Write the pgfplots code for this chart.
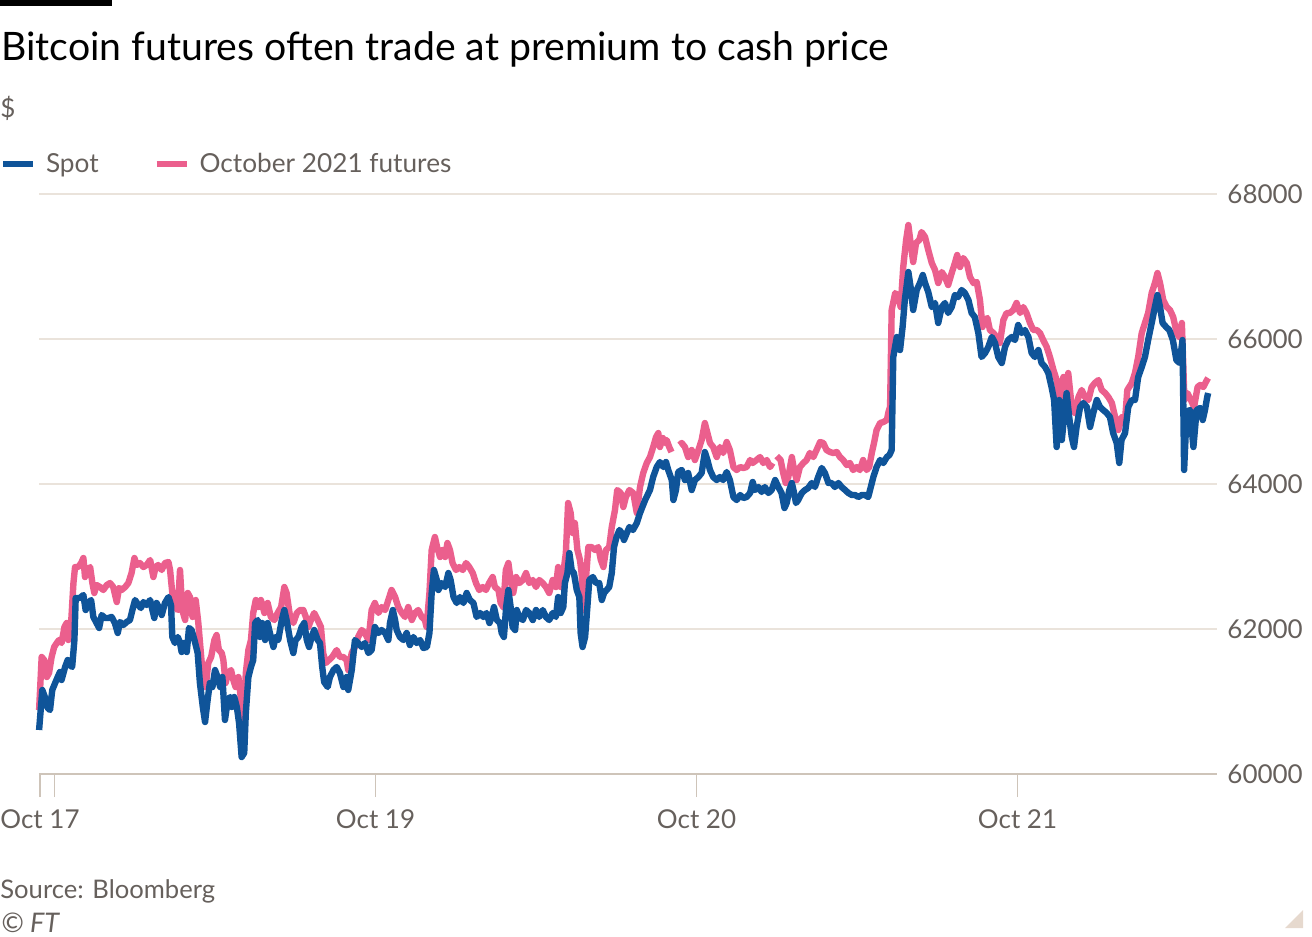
\documentclass[border=0pt]{standalone}
\usepackage{fontspec}
\setmainfont{Lato}
\usepackage{pgfplots}
\usepackage{pgfplotstable}
\pgfplotsset{compat=1.18}
\definecolor{spotblue}{HTML}{0F5499}
\definecolor{futpink}{HTML}{EB5F8D}
\definecolor{txtgray}{HTML}{66605C}
\definecolor{gridc}{HTML}{EAE3DB}
\definecolor{axisc}{HTML}{CEC4B9}
\definecolor{tric}{HTML}{E6D9CE}

% x: days since Oct 18 00:00 ; y: US dollars
\pgfplotstableread{
x y
-0.048 60607
-0.038 61159
-0.030 61062
-0.021 60910
-0.014 60883
-0.007 61159
0.002 61255
0.010 61338
0.017 61407
0.022 61297
0.033 61476
0.041 61572
0.048 61503
0.055 61476
0.062 61848
0.066 62428
0.079 62428
0.090 62469
0.097 62262
0.105 62359
0.114 62400
0.121 62166
0.131 62083
0.139 62014
0.147 62193
0.157 62152
0.168 62152
0.178 62166
0.188 62083
0.197 61945
0.204 62097
0.214 62055
0.225 62097
0.235 62124
0.245 62303
0.251 62400
0.261 62331
0.269 62290
0.277 62372
0.287 62331
0.298 62400
0.305 62262
0.311 62152
0.318 62359
0.329 62262
0.334 62193
0.344 62359
0.355 62441
0.363 62331
0.367 61890
0.375 61807
0.384 61890
0.391 61807
0.396 61683
0.401 61807
0.412 61683
0.419 62014
0.427 61986
0.436 61848
0.446 61669
0.453 61255
0.462 60924
0.469 60717
0.477 61021
0.484 61255
0.492 61200
0.500 61434
0.508 61338
0.516 61200
0.523 61338
0.531 60745
0.540 61021
0.547 61062
0.552 60924
0.560 61062
0.568 60924
0.575 60703
0.583 60234
0.591 60290
0.596 60841
0.604 61338
0.612 61476
0.619 61572
0.625 62083
0.633 62124
0.640 61890
0.647 62083
0.656 61848
0.664 62083
0.671 61945
0.682 61752
0.689 61890
0.697 61848
0.708 62124
0.716 62262
0.723 62124
0.734 61848
0.744 61669
0.751 61848
0.760 61890
0.770 62028
0.778 62083
0.786 61848
0.793 61752
0.801 61890
0.809 61986
0.820 61848
0.827 61807
0.834 61476
0.840 61269
0.851 61200
0.858 61338
0.869 61434
0.879 61476
0.889 61393
0.900 61200
0.910 61338
0.915 61159
0.926 61434
0.936 61848
0.946 61807
0.957 61752
0.967 61807
0.978 61669
0.988 61710
0.998 62028
1.009 61945
1.019 61986
1.030 61945
1.040 61848
1.045 62083
1.054 62262
1.061 62124
1.066 61986
1.076 61890
1.087 61848
1.097 61945
1.107 61779
1.118 61890
1.128 61807
1.139 61848
1.149 61738
1.160 61752
1.168 61945
1.175 62497
1.182 62814
1.191 62676
1.196 62538
1.206 62634
1.217 62579
1.227 62772
1.234 62676
1.243 62441
1.253 62359
1.263 62441
1.274 62359
1.284 62497
1.294 62400
1.305 62359
1.315 62166
1.326 62221
1.336 62166
1.346 62221
1.355 62083
1.362 62166
1.369 62303
1.378 62124
1.388 62083
1.393 61945
1.400 61890
1.407 62303
1.414 62538
1.421 62303
1.427 62028
1.435 61986
1.440 62262
1.448 62166
1.459 62124
1.469 62262
1.479 62221
1.490 62124
1.500 62262
1.510 62166
1.521 62262
1.531 62166
1.541 62124
1.552 62221
1.562 62166
1.569 62441
1.577 62221
1.585 62303
1.590 62634
1.598 62772
1.604 63048
1.611 62814
1.618 62772
1.627 62538
1.635 62441
1.639 61945
1.645 61752
1.653 61890
1.660 62303
1.666 62676
1.677 62717
1.687 62634
1.697 62634
1.705 62400
1.712 62497
1.720 62538
1.728 62579
1.736 62772
1.743 63131
1.751 63269
1.760 63366
1.767 63324
1.774 63228
1.783 63324
1.791 63407
1.802 63366
1.814 63462
1.824 63600
1.840 63779
1.855 63917
1.865 64097
1.876 64234
1.886 64303
1.897 64234
1.905 64303
1.912 64193
1.923 64055
1.928 63779
1.936 63917
1.943 64166
1.954 64193
1.964 64055
1.974 64152
1.985 63917
1.995 64055
2.006 64097
2.016 64152
2.026 64441
2.034 64331
2.042 64193
2.052 64097
2.063 64055
2.073 64097
2.083 64055
2.094 64166
2.104 64055
2.115 63821
2.125 63779
2.136 63848
2.146 63807
2.156 63821
2.167 63876
2.175 64028
2.182 63917
2.193 63959
2.203 63890
2.213 63959
2.224 63876
2.234 63917
2.245 64055
2.255 63959
2.265 63876
2.274 63669
2.281 63738
2.289 63917
2.297 64014
2.302 63917
2.310 63738
2.317 63779
2.328 63876
2.338 63917
2.348 63945
2.359 64014
2.369 63959
2.379 64097
2.390 64221
2.400 64152
2.411 64014
2.421 64014
2.431 63959
2.442 64014
2.452 63959
2.463 63917
2.473 63876
2.484 63848
2.494 63848
2.504 63821
2.515 63848
2.525 63848
2.535 63821
2.543 63959
2.551 64097
2.561 64234
2.572 64331
2.582 64290
2.593 64372
2.601 64400
2.608 64469
2.613 65752
2.624 66028
2.634 65848
2.642 66166
2.649 66538
2.660 66924
2.667 66717
2.675 66400
2.686 66676
2.696 66772
2.705 66883
2.712 66772
2.722 66648
2.733 66441
2.743 66497
2.753 66221
2.764 66441
2.774 66497
2.784 66359
2.795 66441
2.805 66607
2.815 66579
2.826 66676
2.836 66634
2.847 66538
2.857 66359
2.867 66303
2.878 66083
2.888 65752
2.899 65807
2.909 65890
2.920 66028
2.930 65945
2.940 65752
2.951 65669
2.961 65890
2.971 65986
2.982 66028
2.992 65986
3.002 66193
3.013 66083
3.023 66124
3.034 66028
3.044 65807
3.054 65752
3.065 65848
3.075 65669
3.086 65614
3.096 65531
3.106 65338
3.114 65159
3.122 64510
3.130 65159
3.138 64607
3.145 64924
3.153 65255
3.161 64924
3.169 64648
3.176 64510
3.184 64786
3.195 65062
3.205 65117
3.216 65062
3.226 64786
3.236 64979
3.247 65159
3.257 65062
3.267 65021
3.278 64979
3.288 64924
3.298 64703
3.309 64566
3.317 64290
3.324 64607
3.335 64703
3.345 65062
3.356 65159
3.366 65159
3.376 65476
3.387 65614
3.397 65752
3.407 65986
3.418 66221
3.428 66441
3.436 66607
3.444 66441
3.452 66221
3.463 66166
3.473 66124
3.484 65986
3.495 65710
3.505 65669
3.514 65986
3.519 64193
3.527 64993
3.537 65021
3.548 64510
3.558 65021
3.569 65048
3.577 64883
3.584 65021
3.591 65200
3.594 65255
}\spot

\pgfplotstableread{
x y
-0.048 60883
-0.040 61614
-0.032 61572
-0.024 61338
-0.017 61393
-0.009 61614
-0.001 61752
0.007 61807
0.014 61848
0.022 61807
0.031 62028
0.038 62083
0.043 61848
0.051 62028
0.059 62634
0.064 62855
0.074 62855
0.083 62910
0.090 62979
0.095 62717
0.103 62814
0.111 62855
0.118 62634
0.124 62497
0.131 62607
0.142 62579
0.152 62538
0.163 62607
0.173 62634
0.183 62579
0.194 62372
0.201 62566
0.209 62538
0.220 62579
0.230 62634
0.240 62772
0.249 62979
0.256 62883
0.266 62910
0.277 62855
0.287 62883
0.298 62952
0.308 62717
0.315 62855
0.323 62883
0.334 62814
0.344 62910
0.355 62924
0.360 62814
0.367 62497
0.375 62303
0.384 62262
0.391 62814
0.398 62262
0.407 62124
0.415 62497
0.422 62441
0.430 62166
0.440 62400
0.448 62083
0.456 61669
0.464 61255
0.471 61200
0.479 61531
0.488 61614
0.498 61848
0.505 61917
0.512 61710
0.521 61669
0.526 61572
0.533 61255
0.541 61393
0.550 61434
0.557 61297
0.564 61200
0.573 61338
0.581 61021
0.588 60648
0.596 61393
0.604 61710
0.612 61848
0.619 62221
0.627 62400
0.635 62303
0.643 62400
0.654 62221
0.664 62359
0.674 62166
0.685 62124
0.695 62221
0.706 62303
0.716 62579
0.723 62497
0.734 62166
0.744 62083
0.755 62221
0.765 62262
0.775 62262
0.783 62166
0.791 62028
0.799 62124
0.809 62221
0.820 62124
0.830 62028
0.837 61669
0.845 61531
0.855 61572
0.865 61614
0.879 61710
0.889 61614
0.900 61614
0.910 61572
0.915 61434
0.926 61669
0.936 61752
0.946 61890
0.957 61986
0.967 61945
0.978 61848
0.988 62262
0.998 62359
1.009 62221
1.019 62303
1.030 62262
1.040 62400
1.050 62538
1.061 62441
1.071 62303
1.082 62221
1.092 62166
1.102 62303
1.113 62124
1.123 62221
1.133 62262
1.144 62166
1.154 62124
1.159 62028
1.168 62497
1.175 63090
1.185 63269
1.192 63131
1.201 62993
1.209 63090
1.217 62993
1.224 63186
1.232 63090
1.240 62910
1.251 62814
1.261 62855
1.272 62814
1.282 62910
1.292 62855
1.303 62772
1.313 62634
1.323 62538
1.334 62579
1.344 62538
1.354 62634
1.365 62717
1.372 62579
1.383 62538
1.390 62359
1.398 62303
1.406 62814
1.414 62910
1.421 62676
1.429 62497
1.438 62717
1.448 62634
1.459 62676
1.469 62772
1.479 62634
1.490 62676
1.500 62579
1.510 62676
1.521 62634
1.531 62579
1.541 62497
1.552 62676
1.562 62579
1.569 62855
1.577 62579
1.585 62772
1.593 63048
1.600 63738
1.608 63600
1.614 63324
1.621 63462
1.629 63090
1.637 62952
1.642 62772
1.647 62262
1.656 62717
1.663 63131
1.673 63131
1.684 63090
1.694 63131
1.702 62952
1.710 62855
1.718 63090
1.728 63131
1.736 63407
1.746 63641
1.753 63917
1.764 63876
1.772 63683
1.780 63821
1.791 63917
1.803 63876
1.814 63600
1.824 63959
1.834 64152
1.845 64290
1.855 64372
1.865 64510
1.874 64648
1.881 64703
1.886 64510
1.895 64634
1.902 64566
1.907 64607
1.915 64510
1.922 64441
1.935 nan
1.947 64538
1.954 64566
1.964 64510
1.974 64372
1.985 64469
1.995 64331
2.006 64469
2.016 64607
2.026 64841
2.034 64703
2.042 64566
2.052 64510
2.063 64372
2.073 64510
2.083 64428
2.094 64579
2.104 64469
2.115 64234
2.125 64193
2.136 64234
2.146 64221
2.156 64234
2.167 64331
2.175 64290
2.187 64331
2.198 64372
2.208 64290
2.219 64331
2.229 64234
2.237 64290
2.243 nan
2.250 64386
2.262 64331
2.270 64152
2.278 64014
2.286 64097
2.297 64372
2.304 64193
2.312 64055
2.322 64234
2.333 64290
2.343 64331
2.353 64428
2.364 64372
2.374 64469
2.385 64579
2.395 64566
2.405 64469
2.416 64441
2.426 64428
2.437 64441
2.447 64372
2.457 64331
2.468 64262
2.478 64290
2.488 64193
2.499 64234
2.509 64193
2.519 64331
2.530 64193
2.538 64234
2.546 64428
2.553 64566
2.561 64745
2.572 64841
2.582 64855
2.593 64883
2.598 64993
2.603 65062
2.608 66400
2.619 66634
2.629 66579
2.636 66441
2.644 66993
2.653 67366
2.660 67572
2.667 67324
2.675 67062
2.684 67324
2.694 67366
2.701 67476
2.712 67407
2.722 67228
2.733 67048
2.743 66952
2.753 66772
2.764 66924
2.774 66855
2.784 66745
2.795 66910
2.805 67048
2.812 67159
2.821 66993
2.831 67117
2.842 67048
2.852 66855
2.863 66772
2.873 66786
2.883 66538
2.891 66166
2.899 66262
2.906 66290
2.914 66124
2.925 66083
2.935 66028
2.945 65945
2.956 66262
2.966 66359
2.976 66359
2.987 66400
2.997 66497
3.008 66359
3.018 66441
3.028 66359
3.039 66221
3.049 66124
3.060 66124
3.070 66083
3.080 65986
3.091 65890
3.101 65752
3.112 65572
3.122 65434
3.132 65159
3.143 65476
3.151 65338
3.158 65531
3.169 65062
3.179 64979
3.190 65200
3.200 65297
3.210 65200
3.221 65159
3.231 65338
3.241 65393
3.252 65434
3.262 65297
3.273 65255
3.283 65200
3.294 65117
3.304 64924
3.314 64745
3.325 64924
3.335 64883
3.342 65297
3.356 65393
3.366 65531
3.376 65752
3.387 66083
3.397 66221
3.407 66359
3.418 66634
3.428 66772
3.436 66910
3.444 66772
3.454 66538
3.465 66441
3.475 66400
3.485 66303
3.496 66083
3.504 66028
3.512 66221
3.520 65159
3.529 65255
3.540 65159
3.550 65062
3.561 65338
3.569 65366
3.579 65338
3.590 65434
3.594 65462
}\futures

\begin{document}
\begin{tikzpicture}
\path[use as bounding box] (0pt,0pt) rectangle (656pt,-468.5pt);
\fill[black] (0pt,0pt) rectangle (56pt,-3pt);
\node[anchor=base west,inner sep=0pt,font=\fontsize{19.6}{24}\selectfont,text=black] at (0.5pt,-30pt) {Bitcoin futures often trade at premium to cash price};
\node[anchor=base west,inner sep=0pt,font=\fontsize{13}{16}\selectfont,text=txtgray] at (0pt,-58.5pt) {\$};
\node[anchor=base west,inner sep=0pt,font=\fontsize{12.8}{15}\selectfont,text=txtgray] at (0pt,-449pt) {Source: Bloomberg};
\node[anchor=base west,inner sep=0pt,font=\fontsize{13.5}{15}\selectfont\itshape,text=txtgray] at (0.5pt,-466pt) {\textcopyright{} FT};
\fill[tric] (651.5pt,-455pt) -- (651.5pt,-464pt) -- (642.5pt,-464pt) -- cycle;
\begin{axis}[
  at={(19.5pt,-387pt)}, anchor=south west,
  scale only axis, width=589pt, height=290pt,
  xmin=-0.0483, xmax=3.6215, ymin=60000, ymax=68000,
  axis x line*=bottom, axis y line*=right,
  y axis line style={draw=none},
  x axis line style={draw=axisc, line width=0.75pt},
  xtick={-0.0452,0,1,2,3},
  xticklabels={Oct 17,,Oct 19,Oct 20,Oct 21},
  ytick={60000,62000,64000,66000,68000},
  yticklabels={60000,62000,64000,66000,68000},
  scaled y ticks=false, scaled x ticks=false,
  tick align=outside,
  major tick length=11.5pt,
  xtick style={draw=axisc, line width=0.75pt},
  ytick style={draw=none},
  ymajorgrids, grid style={draw=gridc, line width=0.6pt},
  tick label style={font=\fontsize{13}{16}\selectfont, text=txtgray, inner sep=0pt},
  xticklabel style={anchor=base, yshift=-15.5pt},
  yticklabel style={anchor=west, xshift=-6.5pt},
  unbounded coords=jump,
  clip=false,
  legend columns=2,
  legend style={at={(-0.0331,1.0517)}, anchor=west, draw=none, fill=none,
    inner sep=0pt, outer sep=0pt,
    font=\fontsize{13.1}{16}\selectfont, text=txtgray,
    nodes={inner sep=0pt},
    /tikz/every odd column/.style={column sep=5pt},
    /tikz/every even column/.style={column sep=27.5pt}},
  legend image code/.code={\draw[#1, line cap=butt] (0pt,0pt) -- (15pt,0pt);},
]
\addlegendimage{spotblue, line width=3pt}
\addlegendentry{Spot}
\addlegendimage{futpink, line width=3pt}
\addlegendentry{October 2021 futures}
\addplot[futpink, line width=3.2pt, line join=round, forget plot] table[x=x,y=y] {\futures};
\addplot[spotblue, line width=3.2pt, line join=round, forget plot] table[x=x,y=y] {\spot};
\end{axis}
\end{tikzpicture}
\end{document}
